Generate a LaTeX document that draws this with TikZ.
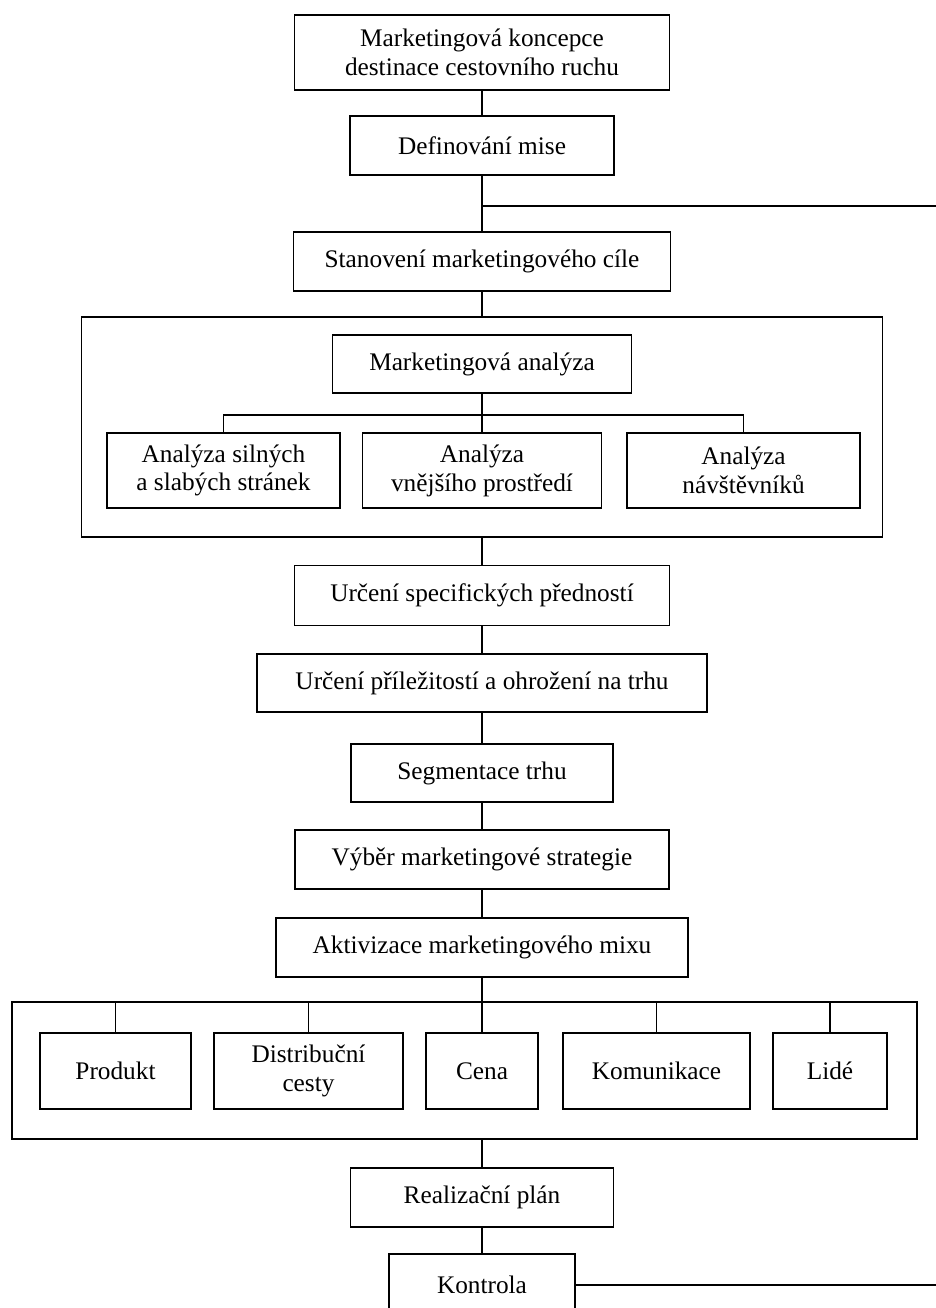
\documentclass[tikz,border=0pt]{standalone}
\usepackage{fontspec}
\setmainfont{Liberation Serif}
\usetikzlibrary{positioning}

\begin{document}
\begin{tikzpicture}[x=0.02cm,y=-0.02cm,line width=0.8pt,
    blok/.style={draw,align=center,inner sep=0pt,font=\fontsize{14.4}{16.4}\selectfont},
    ramec/.style={draw,inner sep=0pt}]
    \useasboundingbox (0,0) rectangle (936,1308);
    \clip (0,0) rectangle (936,1308);
    % ramce
    \node [ramec,minimum width=16.02cm,minimum height=4.4cm] (bigA) at (482,427) {};
    \node [ramec,minimum width=18.1cm,minimum height=2.74cm] (bigB) at (464.5,1070.5) {};
    % hlavni osa
    \node [blok,minimum width=7.5cm,minimum height=1.5cm] (koncepce) at (482,52.5) {Marketingová koncepce\\destinace cestovního ruchu};
    \node [blok,minimum width=5.28cm,minimum height=1.18cm] (mise) at (482,145.5) {Definování mise};
    \node [blok,minimum width=7.54cm,minimum height=1.18cm] (cil) at (482,261.5) {Stanovení marketingového cíle};
    \node [blok,minimum width=5.98cm,minimum height=1.16cm] (analyza) at (482,364) {Marketingová analýza};
    \foreach \n/\x/\w/\t in {silne/223.5/4.66/{Analýza silných\\a slabých stránek},
                             prostredi/482/4.78/{Analýza\\vnějšího prostředí},
                             navstevnici/743.5/4.66/{Analýza\\návštěvníků}}{
        \node [blok,minimum width=\w cm,minimum height=1.5cm] (\n) at (\x,470.5) {\t};
    }
    \node [blok,minimum width=7.5cm,minimum height=1.2cm] (prednosti) at (482,595.5) {Určení specifických předností};
    \node [blok,minimum width=9cm,minimum height=1.16cm] (prilezitosti) at (482,683) {Určení příležitostí a ohrožení na trhu};
    \node [blok,minimum width=5.24cm,minimum height=1.16cm] (segmentace) at (482,773) {Segmentace trhu};
    \node [blok,minimum width=7.48cm,minimum height=1.18cm] (strategie) at (482,859.5) {Výběr marketingové strategie};
    \node [blok,minimum width=8.24cm,minimum height=1.18cm] (mix) at (482,947.5) {Aktivizace marketingového mixu};
    \foreach \n/\x/\w/\t in {produkt/115.5/3.02/Produkt, distribuce/308.5/3.78/{Distribuční\\cesty},
                             cena/482/2.24/Cena, komunikace/656.5/3.74/Komunikace, lide/830/2.28/Lidé}{
        \node [blok,minimum width=\w cm,minimum height=1.52cm] (\n) at (\x,1071) {\t};
    }
    \node [blok,minimum width=5.26cm,minimum height=1.18cm] (plan) at (482,1197.5) {Realizační plán};
    \node [blok,minimum width=3.72cm,minimum height=1.24cm] (kontrola) at (482,1285) {Kontrola};
    % spojnice
    \foreach \a/\b in {koncepce/mise,mise/cil,cil/bigA,analyza/prostredi,bigA/prednosti,prednosti/prilezitosti,
                       prilezitosti/segmentace,segmentace/strategie,strategie/mix,plan/kontrola}{
        \draw (\a.south) -- (\b.north);
    }
    \draw (mix.south) -- (mix.south |- bigB.north);
    \draw (plan.north |- bigB.south) -- (plan.north);
    \coordinate (vetevA) at (482,415);
    \draw (silne.north) |- (vetevA) -| (navstevnici.north);
    \foreach \n in {produkt,distribuce,cena,komunikace,lide}{
        \draw (\n.north) -- (\n.north |- bigB.north);
    }
    % zpetna vazba
    \coordinate (uzel) at (482,206);
    \coordinate (okraj1) at (936,206);
    \coordinate (okraj2) at (936,1285);
    \draw (uzel) -- (okraj1);
    \draw (kontrola.east) -- (okraj2);
\end{tikzpicture}
\end{document}
